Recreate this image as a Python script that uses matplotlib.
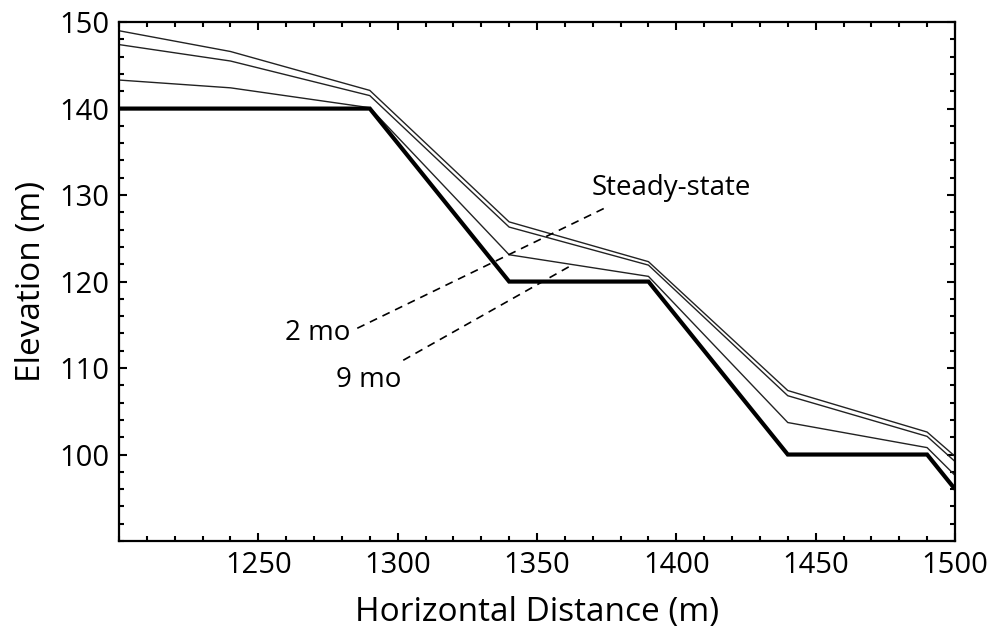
import matplotlib
matplotlib.use('Agg')
from matplotlib import pyplot as plt
from matplotlib.ticker import MultipleLocator

plt.rcParams['font.family'] = ['Open Sans', 'DejaVu Sans']

# horizontal positions of the profile nodes (m)
distance = [1200, 1240, 1290, 1340, 1390, 1440, 1490, 1500]
# initial terraced profile (bold)
initial = [140, 140, 140, 120, 120, 100, 100, 96]
# evolved profiles
two_mo = [143.3, 142.4, 140.1, 123.1, 120.6, 103.7, 100.8, 97.6]
nine_mo = [147.4, 145.5, 141.5, 126.3, 121.9, 106.8, 102.1, 99.2]
steady = [149.0, 146.6, 142.1, 126.9, 122.3, 107.4, 102.6, 99.8]

# leader lines for the labels
leader_a_x = [1285.5, 1375.6]
leader_a_y = [114.6, 128.7]
leader_b_x = [1302.0, 1362.5]
leader_b_y = [110.9, 121.9]

fig = plt.figure(figsize=(9.96, 6.35), dpi=100)
ax = fig.add_axes([0.1195, 0.148, 0.8393, 0.8172])

for prof in [two_mo, nine_mo, steady]:
	ax.plot(distance, prof, color='#222222', lw=1.0, solid_joinstyle='miter')
ax.plot(distance, initial, color='black', lw=3.0, solid_joinstyle='miter', solid_capstyle='butt')

ax.plot(leader_a_x, leader_a_y, color='black', lw=1.2, linestyle=(0, (4.8, 3.6)))
ax.plot(leader_b_x, leader_b_y, color='black', lw=1.2, linestyle=(0, (4.8, 3.6)))

ax.text(1369.7, 130.8, 'Steady-state', fontsize=20, ha='left', va='center')
ax.text(1282.9, 114.0, '2 mo', fontsize=20, ha='right', va='center')
ax.text(1301.4, 108.6, '9 mo', fontsize=20, ha='right', va='center')

ax.set_xlim(1200, 1500)
ax.set_ylim(90, 150)
ax.set_xticks([1250, 1300, 1350, 1400, 1450, 1500])
ax.set_yticks([100, 110, 120, 130, 140, 150])
ax.xaxis.set_minor_locator(MultipleLocator(10))
ax.yaxis.set_minor_locator(MultipleLocator(2))
ax.tick_params(which='both', direction='in', top=True, right=True, width=1.5, labelsize=21)
ax.tick_params(axis='x', pad=7)
ax.tick_params(axis='y', pad=7)
ax.tick_params(which='major', length=6)
ax.tick_params(which='minor', length=3.5)
for s in ax.spines.values():
	s.set_linewidth(1.6)

ax.set_xlabel('Horizontal Distance (m)', fontsize=24, labelpad=12)
ax.set_ylabel('Elevation (m)', fontsize=24, labelpad=8)

fig.savefig('out.png', dpi=100)
